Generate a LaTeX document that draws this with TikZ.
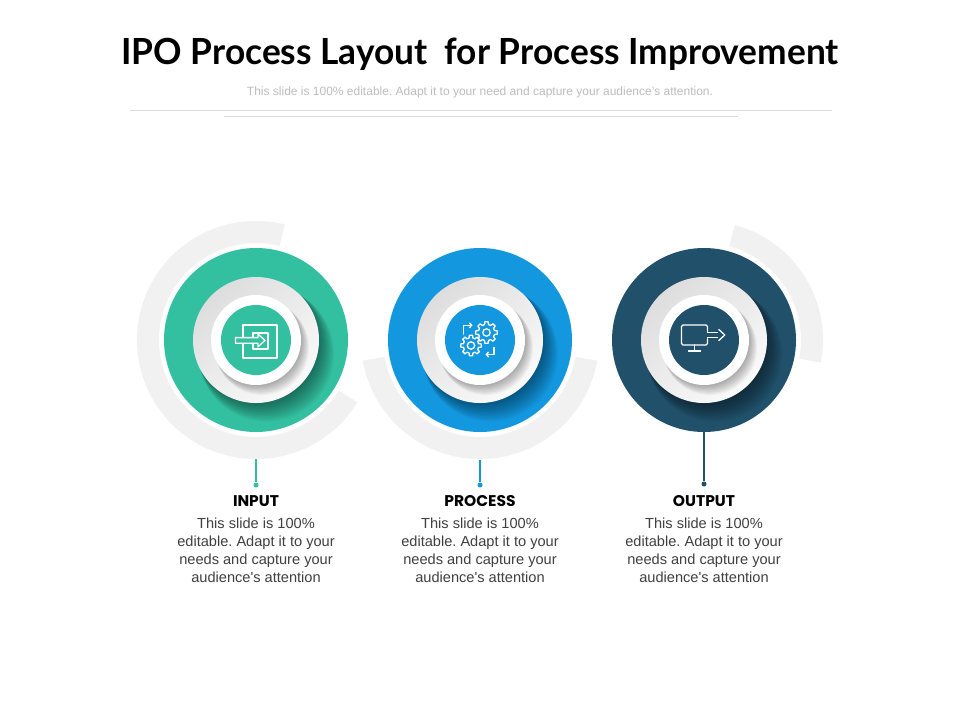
\documentclass[tikz,border=0pt]{standalone}
\usepackage{fontspec}
\setmainfont{Liberation Sans}
\newfontfamily\bodyfont{Liberation Sans}[Ligatures=TeXOff]
\newfontfamily\titlefont{Poppins}
\newfontfamily\headfont{Lato}
\usetikzlibrary{calc,arrows.meta}
\definecolor{cteal}{HTML}{33C0A0}
\definecolor{cblue}{HTML}{1398E0}
\definecolor{cdark}{HTML}{21506A}
\definecolor{arcgray}{HTML}{F1F1F1}
\definecolor{diskA}{HTML}{DDDDDD}
\definecolor{diskB}{HTML}{FAFAFA}
\definecolor{bodygray}{HTML}{404040}
\definecolor{subgray}{HTML}{BDBDBD}
\definecolor{rulegray}{HTML}{DADADA}
\tikzset{
  labeltext/.style={font=\titlefont\bfseries\fontsize{15.5}{17}\selectfont, text=black, inner sep=0, anchor=base},
  bodytext/.style={font=\bodyfont\fontsize{14.6}{18}\selectfont, text=bodygray, align=center, inner sep=0, anchor=north},
  dotnode/.style={circle, fill=#1, inner sep=0, minimum size=5},
  stem/.style={draw=#1, line width=1.2},
  icon/.style={draw=white, line width=1.3, line cap=round, line join=round},
}
\newcommand\ipounit[2]{%
  \fill[white] (#1) circle (95);
  \fill[#2] (#1) circle (92);
  \foreach \i in {1,...,14} \fill[black,opacity=0.035] ($(#1)+(\i*0.75,\i*1.0)$) circle (62+\i*0.4);
  \shade[top color=diskA, bottom color=diskB, shading angle=40] (#1) circle (63);
  \foreach \i in {1,...,10} \fill[black,opacity=0.035] ($(#1)+(\i*0.6,\i*0.8)$) circle (44+\i*0.3);
  \fill[white] (#1) circle (45);
  \fill[#2] (#1) circle (35);
}
\newcommand\gearpath[3]{% center, outer r, inner r
  ($(#1)+(-14:#3)$) \foreach \a in {0,45,...,315} { -- ($(#1)+(\a-9:#2)$) -- ($(#1)+(\a+9:#2)$) -- ($(#1)+(\a+14:#3)$) -- ($(#1)+(\a+31:#3)$) } -- cycle
}
\newcommand\bodycopy{This slide is 100\%\\editable. Adapt it to your\\needs and capture your\\audience's attention}
\begin{document}
\frenchspacing
\begin{tikzpicture}[x=1pt,y=-1pt]
\useasboundingbox[fill=white] (0,0) rectangle (960,720);

% title
\node[font=\headfont\bfseries\fontsize{36}{40}\selectfont, inner sep=0, anchor=base] (title) at (480,64) {\scalebox{0.98}[1]{IPO Process Layout\ \ for Process Improvement}};
\node[font=\fontsize{12}{14}\selectfont, text=subgray, inner sep=0, anchor=base] (sub) at (480,95) {This slide is 100\% editable. Adapt it to your need and capture your audience’s attention.};
\coordinate (r1a) at (130,110); \coordinate (r1b) at (832,110);
\coordinate (r2a) at (224,116); \coordinate (r2b) at (738,116);
\draw[rulegray, line width=0.8] (r1a) -- (r1b);
\draw[rulegray, line width=0.8] (r2a) -- (r2b);

\coordinate (c1) at (256,340);
\coordinate (c2) at (480,340);
\coordinate (c3) at (704,340);

% gray arcs
\fill[arcgray] ($(c1)+(284:119)$) arc[start angle=284, end angle=31.5, radius=119] -- ($(c1)+(31.5:97)$) arc[start angle=31.5, end angle=284, radius=97] -- cycle;
\fill[arcgray] ($(c2)+(170:119)$) arc[start angle=170, end angle=10, radius=119] -- ($(c2)+(10:97)$) arc[start angle=10, end angle=170, radius=97] -- cycle;
\fill[arcgray] ($(c3)+(11:119)$) arc[start angle=11, end angle=-75, radius=119] -- ($(c3)+(-75:97)$) arc[start angle=-75, end angle=11, radius=97] -- cycle;

% circles
\ipounit{c1}{cteal}
\ipounit{c2}{cblue}
\ipounit{c3}{cdark}

% stems and dots
\coordinate (s1) at (256,459);
\coordinate (s2) at (480,460);
\coordinate (s3) at (704,431);
\node[dotnode=cteal] (d1) at (256,485) {};
\node[dotnode=cblue] (d2) at (480,485) {};
\node[dotnode=cdark] (d3) at (704,484) {};
\draw[stem=cteal] (s1) -- (d1);
\draw[stem=cblue] (s2) -- (d2);
\draw[stem=cdark] (s3) -- (d3);

% input icon
\draw[icon] (243,325) rectangle (277,358);
\draw[icon] (253,333) rectangle (268,349);
\draw[icon, fill=cteal] (235.5,337.6) -- (258,337.6) -- (258,334) -- (265,340.4) -- (258,346.8) -- (258,343.2) -- (235.5,343.2) -- cycle;

% process icon
\coordinate (g1) at (486.5,332.5);
\coordinate (g2) at (471,345.5);
\draw[icon] \gearpath{g1}{10.8}{8.2};
\draw[icon] (g1) circle (3.7);
\draw[icon, fill=cblue] \gearpath{g2}{10.3}{7.8};
\draw[icon] (g2) circle (3.7);
\draw[icon, -{Straight Barb[length=2.2pt,width=5pt]}] (463.3,334) -- (463.3,325.3) -- (472.5,325.3);
\draw[icon, -{Straight Barb[length=2.2pt,width=5pt]}] (494,347.5) -- (494,354.5) -- (485.5,354.5);

% output icon
\draw[icon, rounded corners=1.5] (707.5,331.2) -- (707.5,325) -- (681.5,325) -- (681.5,345) -- (707.5,345) -- (707.5,338.8);
\draw[icon] (694.5,345) -- (694.5,351);
\draw[icon] (688.5,351) -- (700.5,351);
\draw[icon] (707.5,332.7) -- (717.5,332.7);
\draw[icon] (707.5,337.3) -- (717.5,337.3);
\draw[icon] (718.8,329.5) -- (724.8,335) -- (718.8,340.5);

% labels
\node[labeltext] (t1) at (256,506) {INPUT};
\node[labeltext] (t2) at (480,506) {PROCESS};
\node[labeltext] (t3) at (704,506) {OUTPUT};
\node[bodytext] (b1) at (256,518) {\bodycopy};
\node[bodytext] (b2) at (480,518) {\bodycopy};
\node[bodytext] (b3) at (704,518) {\bodycopy};
\end{tikzpicture}
\end{document}
